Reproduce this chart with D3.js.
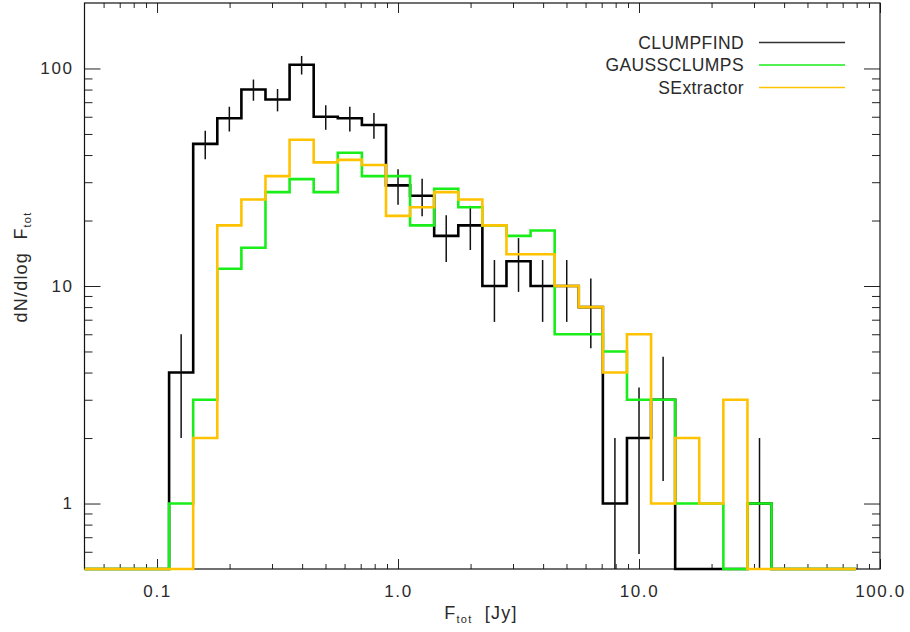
<!DOCTYPE html>
<html>
<head>
	<meta charset="utf-8">
	<title>dN/dlog Ftot</title>
	<script src="https://cdn.jsdelivr.net/npm/d3@7"></script>
	<style>
		html, body { margin: 0; padding: 0; background: #fff; }
		svg { display: block; }
		.lbl { font-family: "Liberation Sans", Arial, sans-serif; fill: #2a2a2a; }
		.axis path, .axis line { stroke: #222; }
	</style>
</head>
<body>
<div id="chart"></div>
<script>
// bin centres, log10(F_tot / Jy), 0.1 dex bins
var binLog = [-1.3, -1.2, -1.1, -1.0, -0.9, -0.8, -0.7, -0.6, -0.5, -0.4, -0.3,
	-0.2, -0.1, 0.0, 0.1, 0.2, 0.3, 0.4, 0.5, 0.6, 0.7, 0.8, 0.9, 1.0, 1.1,
	1.2, 1.3, 1.4, 1.5, 1.6, 1.7, 1.8, 1.9];

var clumpfind   = [0, 0, 0, 0, 4, 45, 59, 80, 72, 104, 60, 59, 55, 29, 26, 17, 19,
	10, 13, 10, 10, 8, 1, 2, 3, 0, 0, 0, 1, 0, 0, 0, 0];
var gaussclumps = [0, 0, 0, 0, 1, 3, 12, 15, 27, 31, 27, 41, 32, 32, 19, 28, 23,
	19, 17, 18, 6, 6, 5, 3, 3, 1, 1, 0, 1, 0, 0, 0, 0];
var sextractor  = [0, 0, 0, 0, 0, 2, 19, 25, 32, 47, 37, 38, 36, 21, 23, 27, 25,
	19, 14, 14, 10, 8, 4, 6, 1, 2, 1, 3, 0, 0, 0, 0, 0];

var seriesNames = ["CLUMPFIND", "GAUSSCLUMPS", "SExtractor"];
var seriesColors = ["#000000", "#1aee1a", "#ffc200"];

var xMajor = [0.1, 1, 10, 100];
var xMajorLabels = ["0.1", "1.0", "10.0", "100.0"];
var xMinor = [0.06, 0.07, 0.08, 0.09, 0.2, 0.3, 0.4, 0.5, 0.6, 0.7, 0.8, 0.9,
	2, 3, 4, 5, 6, 7, 8, 9, 20, 30, 40, 50, 60, 70, 80, 90];
var yMajor = [1, 10, 100];
var yMajorLabels = ["1", "10", "100"];
var yMinor = [0.6, 0.7, 0.8, 0.9, 2, 3, 4, 5, 6, 7, 8, 9, 20, 30, 40, 50, 60, 70, 80, 90];

var W = 910, H = 632;
var margin = {left: 84.5, right: 30, top: 3, bottom: 63};
var pw = W - margin.left - margin.right,
	ph = H - margin.top - margin.bottom;

var svg = d3.select("#chart").append("svg")
	.attr("width", W).attr("height", H);
var g = svg.append("g").attr("transform", "translate(" + margin.left + "," + margin.top + ")");

var x = d3.scaleLog().domain([0.05, 100]).range([0, pw]);
var y = d3.scaleLog().domain([0.5, 200]).range([ph, 0]);
var yFloor = 0.5;

// axes: major + minor, ticks inward on all four sides
function styleAxis(sel) {
	sel.attr("class", "axis");
	sel.select(".domain").remove();
	sel.selectAll("line").attr("stroke-width", 1);
	sel.selectAll("text").attr("class", "lbl").attr("font-size", 17)
		.attr("letter-spacing", 1.6).attr("fill", "#2a2a2a");
}

g.append("g").attr("transform", "translate(0," + ph + ")")
	.call(d3.axisBottom(x).tickValues(xMajor).tickSize(-10).tickPadding(16)
		.tickFormat(function(d, i) { return xMajorLabels[i]; }))
	.call(styleAxis);
g.append("g").attr("transform", "translate(0," + ph + ")")
	.call(d3.axisBottom(x).tickValues(xMinor).tickSize(-5).tickFormat(""))
	.call(styleAxis);
g.append("g")
	.call(d3.axisTop(x).tickValues(xMajor).tickSize(-10).tickFormat(""))
	.call(styleAxis);
g.append("g")
	.call(d3.axisTop(x).tickValues(xMinor).tickSize(-5).tickFormat(""))
	.call(styleAxis);

g.append("g")
	.call(d3.axisLeft(y).tickValues(yMajor).tickSize(-16).tickPadding(11)
		.tickFormat(function(d, i) { return yMajorLabels[i]; }))
	.call(styleAxis);
g.append("g")
	.call(d3.axisLeft(y).tickValues(yMinor).tickSize(-8).tickFormat(""))
	.call(styleAxis);
g.append("g").attr("transform", "translate(" + pw + ",0)")
	.call(d3.axisRight(y).tickValues(yMajor).tickSize(-16).tickFormat(""))
	.call(styleAxis);
g.append("g").attr("transform", "translate(" + pw + ",0)")
	.call(d3.axisRight(y).tickValues(yMinor).tickSize(-8).tickFormat(""))
	.call(styleAxis);

// frame
g.append("rect").attr("width", pw).attr("height", ph)
	.attr("fill", "none").attr("stroke", "#111").attr("stroke-width", 1.2);

// histograms (IDL psym=10 style steps)
var step = d3.line()
	.x(function(d) { return x(Math.pow(10, d[0])); })
	.y(function(d) { return y(Math.max(d[1], yFloor)); })
	.curve(d3.curveStep);

function hist(values, color) {
	g.append("path")
		.datum(binLog.map(function(c, i) { return [c, values[i]]; }))
		.attr("d", step)
		.attr("fill", "none")
		.attr("stroke", color)
		.attr("stroke-width", 2.6)
		.attr("stroke-linejoin", "miter");
}

hist(clumpfind, seriesColors[0]);

// poisson error bars on CLUMPFIND
g.append("g").selectAll("line")
	.data(binLog.map(function(c, i) { return [c, clumpfind[i]]; })
		.filter(function(d) { return d[1] > 0; }))
	.join("line")
	.attr("x1", function(d) { return x(Math.pow(10, d[0])); })
	.attr("x2", function(d) { return x(Math.pow(10, d[0])); })
	.attr("y1", function(d) { return y(d[1] + Math.sqrt(d[1])); })
	.attr("y2", function(d) { return y(Math.max(d[1] - Math.sqrt(d[1]), yFloor)); })
	.attr("stroke", "#111")
	.attr("stroke-width", 1.5);

hist(gaussclumps, seriesColors[1]);
hist(sextractor, seriesColors[2]);

// legend
var legend = g.append("g");
seriesNames.forEach(function(name, i) {
	var ly = 39.5 + i * 22.5;
	legend.append("text").attr("class", "lbl")
		.attr("x", 744 - margin.left).attr("y", ly)
		.attr("dy", "0.35em")
		.attr("text-anchor", "end")
		.attr("font-size", 17.5)
		.attr("letter-spacing", 0.4)
		.text(name);
	legend.append("line")
		.attr("x1", 759 - margin.left).attr("x2", 845 - margin.left)
		.attr("y1", ly).attr("y2", ly)
		.attr("stroke", i === 0 ? "#333" : seriesColors[i])
		.attr("stroke-width", 1.6);
});

// axis titles
var xt = svg.append("text").attr("class", "lbl")
	.attr("x", 481).attr("y", 619)
	.attr("text-anchor", "middle").attr("font-size", 18).attr("letter-spacing", 1.2);
xt.append("tspan").text("F");
xt.append("tspan").attr("font-size", 11).attr("dy", 4).text("tot");
xt.append("tspan").attr("dy", -4).text("\u00a0 [Jy]");

var yt = svg.append("text").attr("class", "lbl")
	.attr("transform", "translate(27," + 267 + ") rotate(-90)")
	.attr("text-anchor", "middle").attr("font-size", 18).attr("letter-spacing", 1.2);
yt.append("tspan").text("dN/dlog\u00a0 F");
yt.append("tspan").attr("font-size", 11).attr("dy", 4).text("tot");
</script>
</body>
</html>
